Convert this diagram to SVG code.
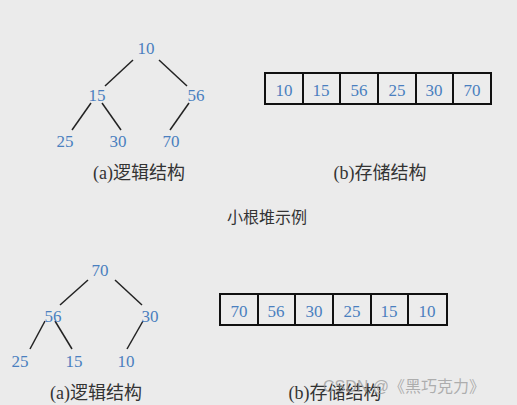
<svg xmlns="http://www.w3.org/2000/svg" width="517" height="405" viewBox="0 0 517 405">
<style>
.n{font-family:"Liberation Serif","Noto Serif CJK SC",serif;font-size:17px;fill:#4a7fbf;text-anchor:middle;dominant-baseline:central}
.c{font-family:"Liberation Serif","Noto Sans CJK SC",serif;font-size:18px;fill:#333;text-anchor:middle;dominant-baseline:central}
.e line{stroke:#222;stroke-width:1.5}
.cell{fill:#ececec;stroke:#111;stroke-width:2}
</style>
<rect width="517" height="405" fill="#ebebeb"/>
<g id="connectors" class="e">
<line x1="133" y1="60" x2="105" y2="86"/>
<line x1="159" y1="60" x2="187" y2="86"/>
<line x1="91" y1="103" x2="72" y2="130"/>
<line x1="102" y1="103" x2="121" y2="130"/>
<line x1="189" y1="103" x2="170" y2="130"/>
<line x1="88" y1="280" x2="60" y2="305"/>
<line x1="115" y1="280" x2="142" y2="305"/>
<line x1="45" y1="321" x2="30" y2="349"/>
<line x1="55" y1="321" x2="72" y2="349"/>
<line x1="143" y1="321" x2="127" y2="349"/>
</g>
<g id="t1-10"><text class="n" x="146" y="48">10</text></g>
<g id="t1-15"><text class="n" x="97" y="95">15</text></g>
<g id="t1-56"><text class="n" x="196" y="95">56</text></g>
<g id="t1-25"><text class="n" x="65" y="141">25</text></g>
<g id="t1-30"><text class="n" x="118" y="141">30</text></g>
<g id="t1-70"><text class="n" x="171" y="141">70</text></g>
<g id="cap1a"><text class="c" x="139" y="173">(a)逻辑结构</text></g>
<g id="arr1">
<rect class="cell" x="265" y="73" width="38" height="31"/>
<rect class="cell" x="303" y="73" width="37" height="31"/>
<rect class="cell" x="340" y="73" width="38" height="31"/>
<rect class="cell" x="378" y="73" width="38" height="31"/>
<rect class="cell" x="416" y="73" width="37" height="31"/>
<rect class="cell" x="453" y="73" width="38" height="31"/>
<text class="n" x="284" y="90">10</text>
<text class="n" x="321" y="90">15</text>
<text class="n" x="359" y="90">56</text>
<text class="n" x="397" y="90">25</text>
<text class="n" x="434" y="90">30</text>
<text class="n" x="472" y="90">70</text>
</g>
<g id="cap1b"><text class="c" x="380" y="173">(b)存储结构</text></g>
<g id="title"><text class="c" x="267" y="217" style="font-size:16px">小根堆示例</text></g>
<g id="t2-70"><text class="n" x="100" y="270">70</text></g>
<g id="t2-56"><text class="n" x="53" y="316">56</text></g>
<g id="t2-30"><text class="n" x="150" y="316">30</text></g>
<g id="t2-25"><text class="n" x="20" y="361">25</text></g>
<g id="t2-15"><text class="n" x="74" y="361">15</text></g>
<g id="t2-10"><text class="n" x="126" y="361">10</text></g>
<g id="cap2a"><text class="c" x="96" y="393">(a)逻辑结构</text></g>
<g id="arr2">
<rect class="cell" x="220" y="294" width="38" height="31"/>
<rect class="cell" x="258" y="294" width="37" height="31"/>
<rect class="cell" x="295" y="294" width="38" height="31"/>
<rect class="cell" x="333" y="294" width="38" height="31"/>
<rect class="cell" x="371" y="294" width="37" height="31"/>
<rect class="cell" x="408" y="294" width="39" height="31"/>
<text class="n" x="239" y="311">70</text>
<text class="n" x="276" y="311">56</text>
<text class="n" x="314" y="311">30</text>
<text class="n" x="352" y="311">25</text>
<text class="n" x="389" y="311">15</text>
<text class="n" x="427" y="311">10</text>
</g>
<g id="cap2b"><text class="c" x="335" y="393">(b)存储结构</text></g>
<g id="watermark"><text x="323" y="386" style="font-family:'Liberation Sans','Noto Sans CJK SC',sans-serif;font-size:16px;fill:#999;fill-opacity:0.75;dominant-baseline:central">CSDN @《黑巧克力》</text></g>
</svg>
